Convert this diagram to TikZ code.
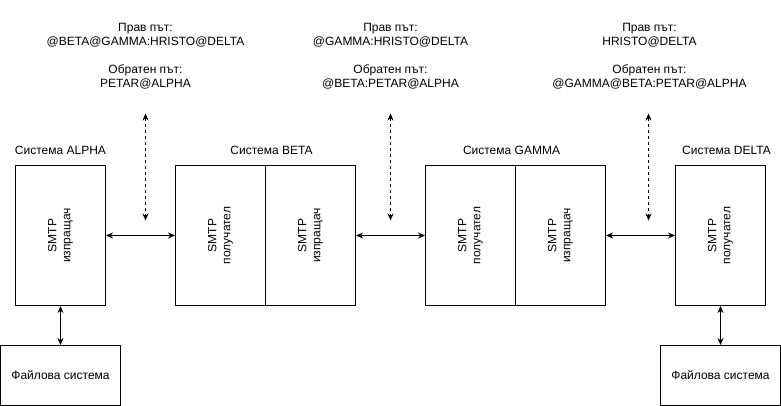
\documentclass[tikz,border=0pt]{standalone}
\usepackage{fontspec}
\setmainfont{Liberation Sans}
\usetikzlibrary{arrows.meta}

\tikzstyle{system}=[draw,line width=1pt,minimum width=90pt,minimum height=140pt,inner sep=0pt]
\tikzstyle{store}=[draw,line width=1pt,minimum width=120pt,minimum height=60pt,inner sep=0pt]
\tikzstyle{smtp}=[rotate=90,align=center]
\tikzstyle{route}=[align=center]
\tikzstyle{link}=[draw,line width=1pt,<->]
\tikzstyle{hint}=[draw,line width=1pt,<->,dash pattern=on 3pt off 3pt]

\begin{document}
\begin{tikzpicture}[x=1pt, y=-1pt, >={Stealth[length=7pt,width=6pt]},
		font=\fontsize{12}{14}\selectfont]
		\useasboundingbox (-0.5,-0.5) rectangle (780.5,405.5);
		\node [route]  (path1)   at (145, 56)  {Прав път:\\@BETA@GAMMA:HRISTO@DELTA\\[14pt]Обратен път:\\PETAR@ALPHA};
		\node [route]  (path2)   at (390, 56)  {Прав път:\\@GAMMA:HRISTO@DELTA\\[14pt]Обратен път:\\@BETA:PETAR@ALPHA};
		\node [route]  (path3)   at (649, 56)  {Прав път:\\HRISTO@DELTA\\[14pt]Обратен път:\\@GAMMA@BETA:PETAR@ALPHA};
		\coordinate    (top1)    at (145,113);
		\coordinate    (bot1)    at (145,220);
		\coordinate    (top2)    at (390,113);
		\coordinate    (bot2)    at (390,220);
		\coordinate    (top3)    at (648,113);
		\coordinate    (bot3)    at (648,220);

		\node []       (nalpha)  at (60, 150)  {Система ALPHA};
		\node []       (nbeta)   at (271,150)  {Система BETA};
		\node []       (ngamma)  at (511,150)  {Система GAMMA};
		\node []       (ndelta)  at (726,150)  {Система DELTA};

		\node [system] (alpha)   at (60, 235)  {};
		\node [system] (betar)   at (220,235)  {};
		\node [system] (betas)   at (310,235)  {};
		\node [system] (gammar)  at (470,235)  {};
		\node [system] (gammas)  at (560,235)  {};
		\node [system] (delta)   at (720,235)  {};
		\node [smtp]   (talpha)  at (alpha)    {SMTP\\изпращач};
		\node [smtp]   (tbetar)  at (betar)    {SMTP\\получател};
		\node [smtp]   (tbetas)  at (betas)    {SMTP\\изпращач};
		\node [smtp]   (tgammar) at (gammar)   {SMTP\\получател};
		\node [smtp]   (tgammas) at (gammas)   {SMTP\\изпращач};
		\node [smtp]   (tdelta)  at (delta)    {SMTP\\получател};

		\node [store]  (fsalpha) at (60, 375)  {Файлова система};
		\node [store]  (fsdelta) at (720,375)  {Файлова система};

		\draw [link] (alpha.east)   -- (betar.west);
		\draw [link] (betas.east)   -- (gammar.west);
		\draw [link] (gammas.east)  -- (delta.west);
		\draw [link] (alpha.south)  -- (fsalpha.north);
		\draw [link] (delta.south)  -- (fsdelta.north);
		\draw [hint] (top1) -- (bot1);
		\draw [hint] (top2) -- (bot2);
		\draw [hint] (top3) -- (bot3);
	\end{tikzpicture}
\end{document}
